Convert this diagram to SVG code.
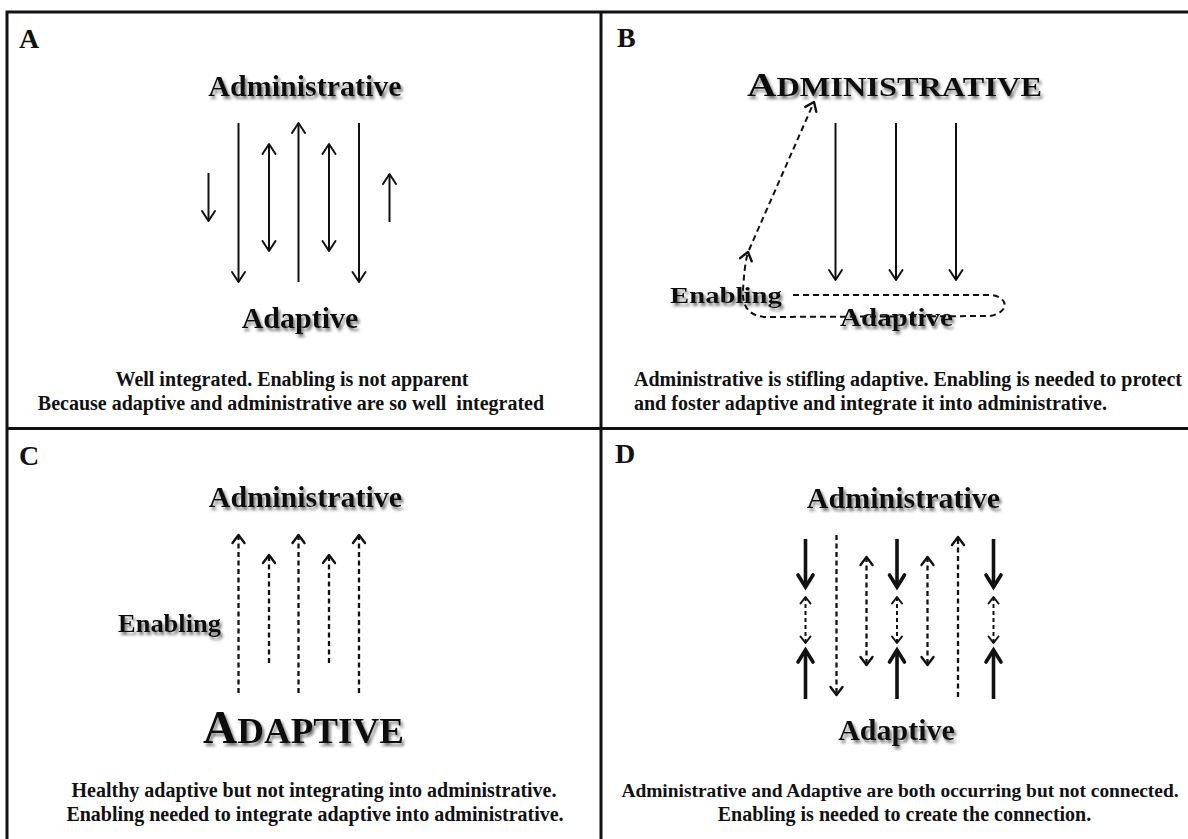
<svg xmlns="http://www.w3.org/2000/svg" width="1188" height="839" viewBox="0 0 1188 839">
<style>
.t{font-family:"Liberation Serif","Times New Roman",serif;font-weight:bold;fill:#111}
.ttl{font-size:30px;filter:url(#sh)}
.ft{font-size:20px}
.lt{font-size:28px}
.frame{stroke:#111;stroke-width:3;fill:none}
.s{stroke:#111;stroke-width:2;fill:none}
.sd{stroke:#111;stroke-width:2.3;fill:none;stroke-dasharray:5 3.5}
.sb{stroke:#111;stroke-width:3.6;fill:none}
.st{stroke:#111;stroke-width:2;fill:none;stroke-dasharray:4 3}
.a{marker-end:url(#h)}
.aa{marker-start:url(#h);marker-end:url(#h)}
.ad{marker-end:url(#hd)}
.aad{marker-start:url(#hd);marker-end:url(#hd)}
.ab{marker-end:url(#hb)}
.aas{marker-start:url(#hs);marker-end:url(#hs)}
</style>
<defs>
<filter id="sh" x="-10%" y="-30%" width="130%" height="170%">
<feGaussianBlur in="SourceAlpha" stdDeviation="1.5" result="b"/>
<feOffset in="b" dx="2" dy="2.5" result="o"/>
<feFlood flood-color="#777" result="c"/>
<feComposite in="c" in2="o" operator="in" result="s"/>
<feMerge><feMergeNode in="s"/><feMergeNode in="SourceGraphic"/></feMerge>
</filter>
<marker id="h" viewBox="-12 -8 14 16" refX="0" refY="0" markerWidth="14" markerHeight="16" markerUnits="userSpaceOnUse" orient="auto-start-reverse" overflow="visible">
<path d="M-10,-6.5 L0,0 L-10,6.5" fill="none" stroke="#111" stroke-width="2" stroke-linejoin="round" stroke-linecap="round"/>
</marker>
<marker id="hd" viewBox="-12 -8 14 16" refX="0" refY="0" markerWidth="14" markerHeight="16" markerUnits="userSpaceOnUse" orient="auto-start-reverse" overflow="visible">
<path d="M-8,-6 L0,0 L-8,6" fill="none" stroke="#111" stroke-width="2.4" stroke-linejoin="round" stroke-linecap="round"/>
</marker>
<marker id="hs" viewBox="-12 -8 14 16" refX="0" refY="0" markerWidth="14" markerHeight="16" markerUnits="userSpaceOnUse" orient="auto-start-reverse" overflow="visible">
<path d="M-6.5,-5 L0,0 L-6.5,5" fill="none" stroke="#111" stroke-width="2" stroke-linejoin="round" stroke-linecap="round"/>
</marker>
<marker id="hb" viewBox="-16 -10 18 20" refX="0" refY="0" markerWidth="18" markerHeight="20" markerUnits="userSpaceOnUse" orient="auto-start-reverse" overflow="visible">
<path d="M-12,-7.5 L0,0 L-12,7.5" fill="none" stroke="#111" stroke-width="3.6" stroke-linejoin="miter" stroke-linecap="round"/>
</marker>
</defs>
<rect width="1188" height="839" fill="#fff"/>

<g id="frame">
<path class="frame" d="M7,839 L7,12 L1188,12 M601,12 L601,839 M7,428.5 L1188,428.5"/>
</g>

<g id="panel-A">
<text id="A-label" class="t lt" x="19" y="48">A</text>
<g id="A-administrative"><text class="t ttl" x="305" y="96" text-anchor="middle">Administrative</text></g>
<g id="A-adaptive"><text class="t ttl" x="300" y="328" text-anchor="middle">Adaptive</text></g>
<g id="A-caption">
<text class="t ft" x="292" y="386" text-anchor="middle">Well integrated. Enabling is not apparent</text>
<text class="t ft" x="291" y="410" text-anchor="middle" style="white-space:pre">Because adaptive and administrative are so well  integrated</text>
</g>
</g>

<g id="panel-B">
<text id="B-label" class="t lt" x="617" y="47">B</text>
<g id="B-administrative"><text class="t" style="filter:url(#sh)" x="747" y="96" textLength="295" lengthAdjust="spacingAndGlyphs"><tspan font-size="34">A</tspan><tspan font-size="27">DMINISTRATIVE</tspan></text></g>
<g id="B-enabling"><text class="t" style="filter:url(#sh)" font-size="24" x="670" y="303" textLength="112" lengthAdjust="spacingAndGlyphs">Enabling</text></g>
<g id="B-adaptive"><text class="t" style="filter:url(#sh)" font-size="25" x="840" y="326" textLength="113" lengthAdjust="spacingAndGlyphs">Adaptive</text></g>
<g id="B-caption">
<text class="t ft" x="634" y="386">Administrative is stifling adaptive. Enabling is needed to protect</text>
<text class="t ft" x="634" y="410">and foster adaptive and integrate it into administrative.</text>
</g>
</g>

<g id="panel-C">
<text id="C-label" class="t lt" x="19" y="465">C</text>
<g id="C-administrative"><text class="t ttl" x="305.5" y="507" text-anchor="middle">Administrative</text></g>
<g id="C-enabling"><text class="t" style="filter:url(#sh)" font-size="26" x="118" y="632" textLength="103" lengthAdjust="spacingAndGlyphs">Enabling</text></g>
<g id="C-adaptive"><text class="t" style="filter:url(#sh)" x="203" y="743" textLength="201" lengthAdjust="spacingAndGlyphs"><tspan font-size="46">A</tspan><tspan font-size="36">DAPTIVE</tspan></text></g>
<g id="C-caption">
<text class="t ft" x="314" y="797" text-anchor="middle">Healthy adaptive but not integrating into administrative.</text>
<text class="t ft" x="315" y="821" text-anchor="middle">Enabling needed to integrate adaptive into administrative.</text>
</g>
</g>

<g id="panel-D">
<text id="D-label" class="t lt" x="615" y="463">D</text>
<g id="D-administrative"><text class="t ttl" x="903.5" y="508" text-anchor="middle">Administrative</text></g>
<g id="D-adaptive"><text class="t ttl" x="896.5" y="740" text-anchor="middle">Adaptive</text></g>
<g id="D-caption">
<text class="t" font-size="19.4" x="900" y="797" text-anchor="middle">Administrative and Adaptive are both occurring but not connected.</text>
<text class="t ft" x="904.5" y="821" text-anchor="middle">Enabling is needed to create the connection.</text>
</g>
</g>

<g id="connectors">
<!-- A -->
<line class="s a" x1="208.5" y1="173" x2="208.5" y2="221"/>
<line class="s a" x1="238.5" y1="123" x2="238.5" y2="282"/>
<line class="s aa" x1="269" y1="144" x2="269" y2="251"/>
<line class="s a" x1="298.5" y1="282" x2="298.5" y2="123"/>
<line class="s aa" x1="329" y1="144" x2="329" y2="251"/>
<line class="s a" x1="359" y1="123" x2="359" y2="282"/>
<line class="s a" x1="389.5" y1="222" x2="389.5" y2="174"/>
<!-- B -->
<line class="s a" x1="835.5" y1="123" x2="835.5" y2="280"/>
<line class="s a" x1="896" y1="123" x2="896" y2="280"/>
<line class="s a" x1="956" y1="123" x2="956" y2="280"/>
<path class="s" stroke-width="2.2" stroke-dasharray="6 4" style="marker-end:url(#hd)" d="M793,295 L990,295 C1008,296 1011,312 990,316 L765,317 C748,316 742,305 743,290 C744,275 745,263 748,252"/>
<path class="s" stroke-width="2.2" stroke-dasharray="6 4" style="marker-end:url(#hd)" d="M749,250 L814,102"/>
<!-- C -->
<line class="sd ad" x1="238.5" y1="693" x2="238.5" y2="535"/>
<line class="sd ad" x1="269" y1="663" x2="269" y2="555"/>
<line class="sd ad" x1="298.5" y1="693" x2="298.5" y2="535"/>
<line class="sd ad" x1="329" y1="663" x2="329" y2="555"/>
<line class="sd ad" x1="359" y1="693" x2="359" y2="535"/>
<!-- D -->
<line class="sb ab" x1="805.5" y1="539" x2="805.5" y2="587"/>
<line class="st aas" x1="805.5" y1="597" x2="805.5" y2="643"/>
<line class="sb ab" x1="805.5" y1="699" x2="805.5" y2="650"/>
<line class="sd ad" x1="836.5" y1="535" x2="836.5" y2="695"/>
<line class="sd aad" x1="866.5" y1="557" x2="866.5" y2="665"/>
<line class="sb ab" x1="897" y1="539" x2="897" y2="587"/>
<line class="st aas" x1="897" y1="597" x2="897" y2="643"/>
<line class="sb ab" x1="897" y1="699" x2="897" y2="650"/>
<line class="sd aad" x1="927.5" y1="557" x2="927.5" y2="665"/>
<line class="sd ad" x1="958" y1="697" x2="958" y2="537"/>
<line class="sb ab" x1="993.5" y1="539" x2="993.5" y2="587"/>
<line class="st aas" x1="993.5" y1="597" x2="993.5" y2="643"/>
<line class="sb ab" x1="993.5" y1="699" x2="993.5" y2="650"/>
</g>
</svg>
